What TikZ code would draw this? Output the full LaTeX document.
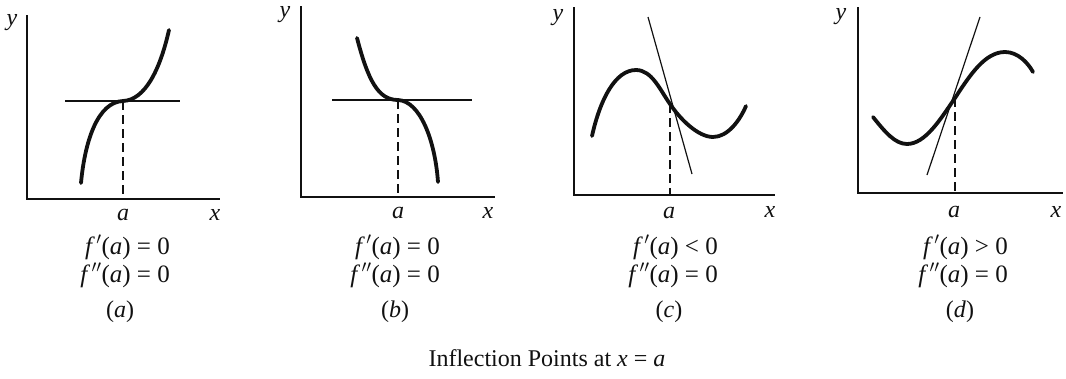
\documentclass[tikz,border=0pt]{standalone}
\usepackage{fontspec}
\setmainfont{Liberation Serif}
\usetikzlibrary{positioning}
\definecolor{InkBlack}{HTML}{111111}
\tikzset{
  axis/.style={line width=1.5pt, draw=InkBlack},
  graph/.style={line width=3.8pt, draw=InkBlack, line cap=round},
  tangent/.style={line width=1.2pt, draw=InkBlack},
  guide/.style={line width=1.4pt, draw=InkBlack, dash pattern=on 9pt off 5pt},
  lbl/.style={font=\fontsize{24}{28}\selectfont\itshape, inner sep=0pt, text=InkBlack},
  cond/.style={font=\fontsize{25}{27}\selectfont, inner sep=0pt, anchor=base east, text=InkBlack},
  tag/.style={font=\fontsize{24}{28}\selectfont, inner sep=0pt, text=InkBlack},
}
\newcommand{\fp}{\textit{f\,}$'$(\textit{a})}
\newcommand{\fpp}{\textit{f\,}$''$(\textit{a})}

\begin{document}
\begin{tikzpicture}[x=1pt,y=-1pt]
  \useasboundingbox (0,0) rectangle (1066,378);
  % (a)
  \draw[axis] (27,15) -- (27,199) -- (220,199);
  \draw[tangent] (65,101) -- (180,101);
  \draw[guide] (123,101) -- (123,199);
  \draw[graph] (81,183) .. controls (85,140) and (98,102) .. (123,101)
               .. controls (145,100) and (160,70) .. (169,30);
  \node[lbl] (ya) at (12,23) {y};
  \node[lbl] (aa) at (123,215) {a};
  \node[lbl] (xa) at (215,215) {x};
  \node[cond] (ca1) at (170,254) {\fp{} = 0};
  \node[cond] (ca2) at (170,282) {\fpp{} = 0};
  \node[tag] (ta) at (120,312) {(\textit{a})};
  % (b)
  \draw[axis] (301,6) -- (301,197) -- (495,197);
  \draw[tangent] (332,100) -- (472,100);
  \draw[guide] (398,100) -- (398,197);
  \draw[graph] (357,38) .. controls (368,80) and (378,100) .. (398,100)
               .. controls (420,101) and (435,140) .. (438,182);
  \node[lbl] (yb) at (285,15) {y};
  \node[lbl] (ab) at (398,213) {a};
  \node[lbl] (xb) at (488,213) {x};
  \node[cond] (cb1) at (440,254) {\fp{} = 0};
  \node[cond] (cb2) at (440,282) {\fpp{} = 0};
  \node[tag] (tb) at (395,312) {(\textit{b})};
  % (c)
  \draw[axis] (574,7) -- (574,195) -- (775,195);
  \draw[tangent] (648,17) -- (692,174);
  \draw[guide] (670,104) -- (670,195);
  \draw[graph] (592,136) .. controls (600,100) and (615,70) .. (636,70)
               .. controls (652,70) and (660,90) .. (670,104)
               .. controls (680,119) and (698,137) .. (713,137)
               .. controls (728,137) and (740,120) .. (746,106);
  \node[lbl] (yc) at (558,18) {y};
  \node[lbl] (ac) at (669,213) {a};
  \node[lbl] (xc) at (770,212) {x};
  \node[cond] (cc1) at (718,254) {\fp{} \textless{} 0};
  \node[cond] (cc2) at (718,282) {\fpp{} = 0};
  \node[tag] (tc) at (669,312) {(\textit{c})};
  % (d)
  \draw[axis] (858,7) -- (858,193) -- (1063,193);
  \draw[tangent] (927,175) -- (980,17);
  \draw[guide] (955,98) -- (955,193);
  \draw[graph] (873,117) .. controls (885,132) and (895,144) .. (907,144)
               .. controls (925,144) and (940,120) .. (955,98)
               .. controls (970,75) and (985,52) .. (1005,52)
               .. controls (1018,52) and (1028,63) .. (1033,72);
  \node[lbl] (yd) at (841,17) {y};
  \node[lbl] (ad) at (954,212) {a};
  \node[lbl] (xd) at (1056,212) {x};
  \node[cond] (cd1) at (1008,254) {\fp{} \textgreater{} 0};
  \node[cond] (cd2) at (1008,282) {\fpp{} = 0};
  \node[tag] (td) at (960,312) {(\textit{d})};
  % caption
  \node[tag] (cap) at (547,358) {Inflection Points at \textit{x} = \textit{a}};
\end{tikzpicture}
\end{document}
